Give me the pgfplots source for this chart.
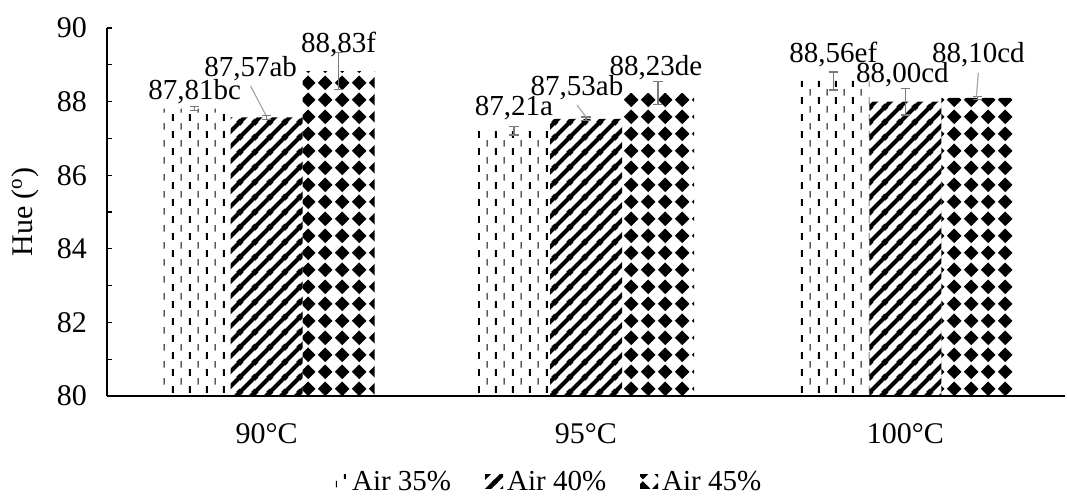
\documentclass[border=0pt]{standalone}
\usepackage{fontspec}
\setmainfont{Liberation Serif}
\usepackage{pgfplots}
\pgfplotsset{compat=1.18}
\usepackage{pgfplotstable}
\usetikzlibrary{patterns}

\definecolor{errgray}{HTML}{7A7A7A}
\definecolor{leadgray}{HTML}{A6A6A6}

% dashed vertical lines (Air 35%)
\pgfdeclarepatternformonly{airdash}{\pgfqpoint{0pt}{0pt}}{\pgfqpoint{8.6pt}{8.6pt}}{\pgfqpoint{8.6pt}{8.6pt}}{
  \pgfsetlinewidth{1pt}
  \pgfpathmoveto{\pgfqpoint{1pt}{0.6pt}}\pgfpathlineto{\pgfqpoint{1pt}{4.1pt}}\pgfusepath{stroke}
  \pgfsetlinewidth{0.55pt}
  \pgfpathmoveto{\pgfqpoint{5.3pt}{4.9pt}}\pgfpathlineto{\pgfqpoint{5.3pt}{8.3pt}}\pgfusepath{stroke}
}
% diagonal stripes (Air 40%)
\pgfdeclarepatternformonly{airstripe}{\pgfqpoint{0pt}{0pt}}{\pgfqpoint{7.5pt}{7.5pt}}{\pgfqpoint{7.5pt}{7.5pt}}{
  \pgfsetlinewidth{2.2pt}
  \pgfpathmoveto{\pgfqpoint{-1pt}{-1pt}}\pgfpathlineto{\pgfqpoint{8.5pt}{8.5pt}}
  \pgfpathmoveto{\pgfqpoint{-1pt}{6.5pt}}\pgfpathlineto{\pgfqpoint{1pt}{8.5pt}}
  \pgfpathmoveto{\pgfqpoint{6.5pt}{-1pt}}\pgfpathlineto{\pgfqpoint{8.5pt}{1pt}}
  \pgfusepath{stroke}
}
% diamonds (Air 45%)
\pgfdeclarepatternformonly{airdiamond}{\pgfqpoint{0pt}{0pt}}{\pgfqpoint{8.35pt}{8.35pt}}{\pgfqpoint{8.35pt}{8.35pt}}{
  \pgfpathmoveto{\pgfqpoint{0.475pt}{4.175pt}}
  \pgfpathlineto{\pgfqpoint{4.175pt}{0.475pt}}
  \pgfpathlineto{\pgfqpoint{7.875pt}{4.175pt}}
  \pgfpathlineto{\pgfqpoint{4.175pt}{7.875pt}}
  \pgfpathclose
  \pgfusepath{fill}
}

\pgfplotstableread{
x y err
0 87.81 0.05
1 87.21 0.12
2 88.56 0.25
}\airA
\pgfplotstableread{
x y err
0 87.57 0.05
1 87.53 0.05
2 88.00 0.36
}\airB
\pgfplotstableread{
x y err
0 88.83 0.50
1 88.23 0.31
2 88.10 0.04
}\airC

\begin{document}
\begin{tikzpicture}
\begin{axis}[name=ax, scale only axis, width=479pt, height=184pt,
  clip=false,
  xmin=-0.5, xmax=2.5, ymin=80, ymax=90,
  ybar=0pt, bar width=36pt,
  axis x line*=bottom, axis y line*=left,
  axis line style={black, line width=0.75pt, -},
  xtick={0,1,2}, xticklabels={90°C,95°C,100°C},
  x tick style={draw=none},
  ytick={80,82,...,90}, minor y tick num=1,
  tick align=inside, major tick length=2.6pt, minor tick length=2.6pt,
  y tick style={black, line width=0.6pt},
  font=\fontsize{15}{18}\selectfont,
  /pgf/number format/assume math mode=true,
  ylabel={Hue (\textsuperscript{o})},
  ylabel style={at={(axis description cs:-0.0856,0.5)}, anchor=center},
  yticklabel style={xshift=-6.5pt},
  xticklabel style={yshift=-10pt},
  legend style={at={(axis description cs:0.46,-0.236)}, anchor=center, draw=none,
    legend columns=3, font=\fontsize{14.5}{17}\selectfont,
    /tikz/every even column/.append style={column sep=15pt},
    /tikz/every odd column/.append style={column sep=0pt}},
  legend image code/.code={\fill[#1] (0pt,-3pt) rectangle (9pt,4pt);},
  error bars/error bar style={errgray, line width=0.75pt},
  error bars/error mark options={errgray, rotate=90, mark size=2.4pt, line width=0.75pt},
]
\addplot[draw=none, pattern=airdash, error bars/.cd, y dir=both, y explicit]
  table[x=x, y=y, y error=err]{\airA};
\addplot[draw=none, pattern=airstripe, error bars/.cd, y dir=both, y explicit]
  table[x=x, y=y, y error=err]{\airB};
\addplot[draw=none, pattern=airdiamond, error bars/.cd, y dir=both, y explicit]
  table[x=x, y=y, y error=err]{\airC};
\legend{Air 35\%, Air 40\%, Air 45\%}

% leader lines
\draw[leadgray, line width=0.6pt] ([xshift=-8pt]axis cs:0,88.42) -- ([xshift=-0.5pt]axis cs:0,87.64);
\draw[leadgray, line width=0.6pt] ([xshift=-4.5pt]axis cs:1,87.91) -- ([xshift=0pt]axis cs:1,87.58);
\draw[leadgray, line width=0.6pt] ([xshift=36.5pt]axis cs:2,88.78) -- ([xshift=35.5pt]axis cs:2,88.12);

% data labels
\begin{scope}[every node/.style={font=\fontsize{14.5}{17}\selectfont, inner sep=1pt}]
\node[xshift=-36pt] at (axis cs:0,88.26) {87,81bc};
\node[xshift=-8pt] at (axis cs:0,88.90) {87,57ab};
\node[xshift=36pt] at (axis cs:0,89.54) {88,83f};
\node[xshift=-36pt] at (axis cs:1,87.83) {87,21a};
\node[xshift=-4.5pt] at (axis cs:1,88.37) {87,53ab};
\node[xshift=35pt] at (axis cs:1,88.91) {88,23de};
\node[xshift=-36pt] at (axis cs:2,89.27) {88,56ef};
\node[xshift=-1.5pt] at (axis cs:2,88.72) {88,00cd};
\node[xshift=36.5pt] at (axis cs:2,89.27) {88,10cd};
\end{scope}
\end{axis}
\pgfresetboundingbox
\path[use as bounding box] ([shift={(-53.5pt,-50.5pt)}]ax.south west) rectangle ([shift={(1pt,14pt)}]ax.north east);
\end{tikzpicture}
\end{document}
